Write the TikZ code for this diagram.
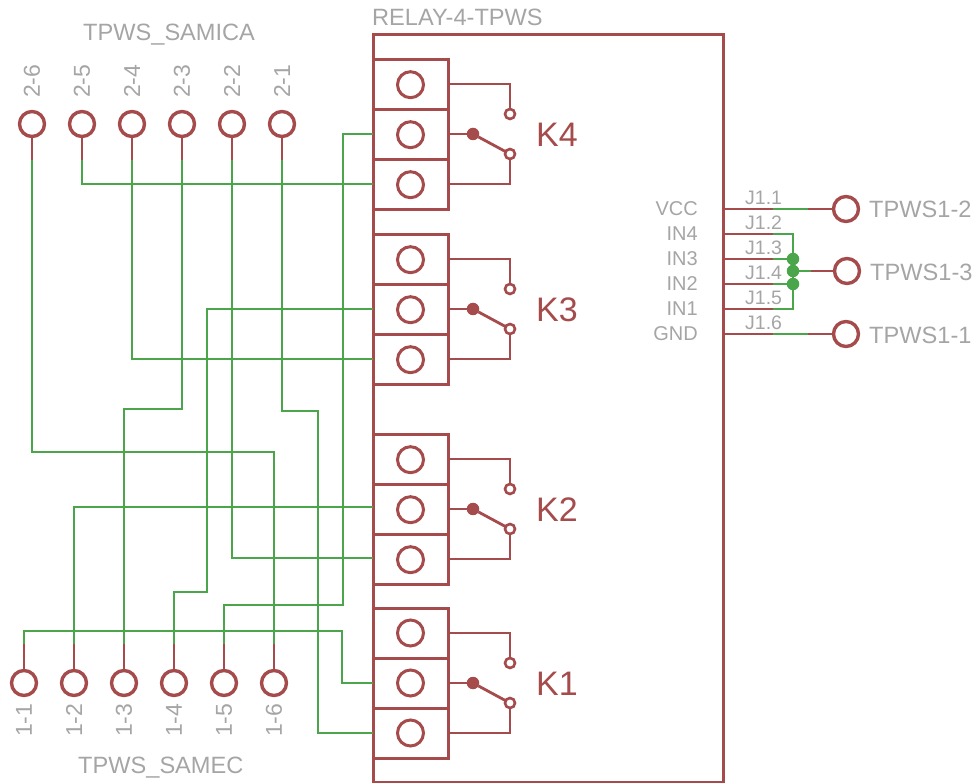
\documentclass[tikz,border=0pt]{standalone}
\usepackage{fontspec}
\setmainfont{Liberation Sans}
\definecolor{schred}{RGB}{165,75,75}
\definecolor{schgreen}{RGB}{75,165,75}
\definecolor{schgray}{RGB}{165,165,165}
\begin{document}
\begin{tikzpicture}[x=1pt,y=-1pt,
	wirered/.style={color=schred, line width=2.8pt},
	wiregreen/.style={color=schgreen, line width=2.4pt},
	pinnode/.style={circle, draw=schred, line width=3.4pt, fill=white, minimum size=25pt, inner sep=0pt, outer sep=0pt},
	terminal/.style={rectangle, draw=schred, line width=3pt, minimum width=75pt, minimum height=50pt, inner sep=0pt, outer sep=0pt},
	screw/.style={circle, draw=schred, line width=3pt, minimum size=26pt, inner sep=0pt, outer sep=0pt},
	contact/.style={circle, draw=schred, line width=2.6pt, fill=white, minimum size=10pt, inner sep=0pt, outer sep=0pt},
	pivot/.style={circle, fill=schred, minimum size=12.5pt, inner sep=0pt, outer sep=0pt},
	junction/.style={circle, fill=schgreen, minimum size=12.5pt, inner sep=0pt, outer sep=0pt},
	biglabel/.style={text=schgray, inner sep=0pt, font=\fontsize{23.6}{24}\selectfont},
	pinlabel/.style={text=schgray, inner sep=0pt, rotate=90, anchor=west, font=\fontsize{23}{23}\selectfont},
	netlabel/.style={text=schgray, inner sep=0pt, anchor=east, font=\fontsize{20}{20}\selectfont},
	padlabel/.style={text=schgray, inner sep=0pt, anchor=west, font=\fontsize{19.5}{20}\selectfont},
	relaylabel/.style={text=schred, inner sep=0pt, anchor=west, font=\fontsize{34}{34}\selectfont}]
	\useasboundingbox (0,0) rectangle (978,783);

	\coordinate (s26) at (32,160);
	\coordinate (s25) at (82,160);
	\coordinate (s24) at (132,160);
	\coordinate (s23) at (182,160);
	\coordinate (s22) at (232,160);
	\coordinate (s21) at (282,160);

	\coordinate (s11) at (24,644);
	\coordinate (s12) at (74,644);
	\coordinate (s13) at (124,644);
	\coordinate (s14) at (174,644);
	\coordinate (s15) at (224,644);
	\coordinate (s16) at (274,644);

	\coordinate (w4b) at (373,134);
	\coordinate (w4c) at (373,184);
	\coordinate (w3b) at (373,309);
	\coordinate (w3c) at (373,359);
	\coordinate (w2b) at (373,507);
	\coordinate (w2c) at (373,558);
	\coordinate (w1b) at (373,683);
	\coordinate (w1c) at (373,733);

	\node[rectangle, draw=schred, line width=3pt, minimum width=350pt, minimum height=747pt, inner sep=0pt, outer sep=0pt] (relay) at (548,408.5) {};

	\node[terminal] (k4a) at (410.5,84.7) {};
	\node[terminal] (k4b) at (410.5,134.7) {};
	\node[terminal] (k4c) at (410.5,184.7) {};
	\node[terminal] (k3a) at (410.5,259.7) {};
	\node[terminal] (k3b) at (410.5,309.7) {};
	\node[terminal] (k3c) at (410.5,359.7) {};
	\node[terminal] (k2a) at (410.5,459.7) {};
	\node[terminal] (k2b) at (410.5,509.7) {};
	\node[terminal] (k2c) at (410.5,559.7) {};
	\node[terminal] (k1a) at (410.5,633) {};
	\node[terminal] (k1b) at (410.5,683) {};
	\node[terminal] (k1c) at (410.5,733) {};

	\draw[wiregreen] (s11) |- (342,631) |- (w1b);
	\draw[wiregreen] (s12) |- (w2b);
	\draw[wiregreen] (s13) |- (182,409) -- (s23);
	\draw[wiregreen] (s14) |- (207,592) |- (w3b);
	\draw[wiregreen] (s15) |- (343,605) |- (w4b);
	\draw[wiregreen] (s16) |- (32,452) -- (s26);
	\draw[wiregreen] (s25) |- (w4c);
	\draw[wiregreen] (s24) |- (w3c);
	\draw[wiregreen] (s22) |- (w2c);
	\draw[wiregreen] (s21) |- (318,411) |- (w1c);

	\node[pinnode] (p26) at (32,124) {};
	\node[pinnode] (p25) at (82,124) {};
	\node[pinnode] (p24) at (132,124) {};
	\node[pinnode] (p23) at (182,124) {};
	\node[pinnode] (p22) at (232,124) {};
	\node[pinnode] (p21) at (282,124) {};

	\node[pinnode] (p11) at (24,683) {};
	\node[pinnode] (p12) at (74,683) {};
	\node[pinnode] (p13) at (124,683) {};
	\node[pinnode] (p14) at (174,683) {};
	\node[pinnode] (p15) at (224,683) {};
	\node[pinnode] (p16) at (274,683) {};

	\draw[wirered] (p26) -- (s26);
	\draw[wirered] (p25) -- (s25);
	\draw[wirered] (p24) -- (s24);
	\draw[wirered] (p23) -- (s23);
	\draw[wirered] (p22) -- (s22);
	\draw[wirered] (p21) -- (s21);

	\draw[wirered] (p11) -- (s11);
	\draw[wirered] (p12) -- (s12);
	\draw[wirered] (p13) -- (s13);
	\draw[wirered] (p14) -- (s14);
	\draw[wirered] (p15) -- (s15);
	\draw[wirered] (p16) -- (s16);

	\node[pinlabel] (l26) at (32,98) {2-6};
	\node[pinlabel] (l25) at (82,98) {2-5};
	\node[pinlabel] (l24) at (132,98) {2-4};
	\node[pinlabel] (l23) at (182,98) {2-3};
	\node[pinlabel] (l22) at (232,98) {2-2};
	\node[pinlabel] (l21) at (282,98) {2-1};

	\node[pinlabel] (l11) at (24,737) {1-1};
	\node[pinlabel] (l12) at (74,737) {1-2};
	\node[pinlabel] (l13) at (124,737) {1-3};
	\node[pinlabel] (l14) at (174,737) {1-4};
	\node[pinlabel] (l15) at (224,737) {1-5};
	\node[pinlabel] (l16) at (274,737) {1-6};

	\node[biglabel, anchor=base west] (samica) at (83,41) {TPWS\_SAMICA};
	\node[biglabel, anchor=base west] (samec) at (78,773) {TPWS\_SAMEC};
	\node[biglabel, anchor=base west] (relayname) at (372,26) {RELAY-4-TPWS};

	\node[screw] (c4a) at (k4a) {};
	\node[screw] (c4b) at (k4b) {};
	\node[screw] (c4c) at (k4c) {};
	\node[screw] (c3a) at (k3a) {};
	\node[screw] (c3b) at (k3b) {};
	\node[screw] (c3c) at (k3c) {};
	\node[screw] (c2a) at (k2a) {};
	\node[screw] (c2b) at (k2b) {};
	\node[screw] (c2c) at (k2c) {};
	\node[screw] (c1a) at (k1a) {};
	\node[screw] (c1b) at (k1b) {};
	\node[screw] (c1c) at (k1c) {};

	\coordinate (e4a) at (448,84);
	\coordinate (e4b) at (448,134);
	\coordinate (e4c) at (448,184);
	\coordinate (e3a) at (448,259);
	\coordinate (e3b) at (448,309);
	\coordinate (e3c) at (448,359);
	\coordinate (e2a) at (448,459);
	\coordinate (e2b) at (448,509);
	\coordinate (e2c) at (448,559);

	\node[contact] (k4no) at (510,114) {};
	\node[contact] (k4nc) at (510,154) {};
	\node[pivot] (k4com) at (473,134) {};
	\draw[wirered] (e4a) -| (k4no);
	\draw[wirered] (e4b) -- (k4com);
	\draw[wirered] (k4com) -- (k4nc);
	\draw[wirered] (e4c) -| (k4nc);
	\node[relaylabel] (k4name) at (536,134.5) {K4};

	\node[contact] (k3no) at (510,289) {};
	\node[contact] (k3nc) at (510,329) {};
	\node[pivot] (k3com) at (473,309) {};
	\draw[wirered] (e3a) -| (k3no);
	\draw[wirered] (e3b) -- (k3com);
	\draw[wirered] (k3com) -- (k3nc);
	\draw[wirered] (e3c) -| (k3nc);
	\node[relaylabel] (k3name) at (536,309.5) {K3};

	\node[contact] (k2no) at (510,489) {};
	\node[contact] (k2nc) at (510,529) {};
	\node[pivot] (k2com) at (473,509) {};
	\draw[wirered] (e2a) -| (k2no);
	\draw[wirered] (e2b) -- (k2com);
	\draw[wirered] (k2com) -- (k2nc);
	\draw[wirered] (e2c) -| (k2nc);
	\node[relaylabel] (k2name) at (536,509.5) {K2};

	\node[contact] (k1no) at (510,663) {};
	\node[contact] (k1nc) at (510,703) {};
	\node[pivot] (k1com) at (473,683) {};
	\draw[wirered] (k1a.east) -| (k1no);
	\draw[wirered] (k1b.east) -- (k1com);
	\draw[wirered] (k1com) -- (k1nc);
	\draw[wirered] (k1c.east) -| (k1nc);
	\node[relaylabel] (k1name) at (536,683.5) {K1};

	\coordinate (vcc) at (723,209);
	\coordinate (in4) at (723,234);
	\coordinate (in3) at (723,259);
	\coordinate (in2) at (723,284);
	\coordinate (in1) at (723,309);
	\coordinate (gnd) at (723,334);

	\node[netlabel] (lvcc) at (698,209) {VCC};
	\node[netlabel] (lin4) at (698,234) {IN4};
	\node[netlabel] (lin3) at (698,259) {IN3};
	\node[netlabel] (lin2) at (698,284) {IN2};
	\node[netlabel] (lin1) at (698,309) {IN1};
	\node[netlabel] (lgnd) at (698,334) {GND};

	\node[pinnode] (t2) at (846,209) {};
	\node[pinnode] (t3) at (847,271) {};
	\node[pinnode] (t1) at (846,334) {};

	\coordinate (g1a) at (773,209);
	\coordinate (g1b) at (808,209);
	\coordinate (g2) at (773,234);
	\coordinate (g3) at (773,259);
	\coordinate (g4) at (773,284);
	\coordinate (g5) at (773,309);
	\coordinate (g6a) at (773,334);
	\coordinate (g6b) at (808,334);
	\coordinate (g7) at (811,271);

	\draw[wirered] (vcc) -- (g1a);
	\draw[wirered] (in4) -- (g2);
	\draw[wirered] (in3) -- (g3);
	\draw[wirered] (in2) -- (g4);
	\draw[wirered] (in1) -- (g5);
	\draw[wirered] (gnd) -- (g6a);
	\draw[wirered] (g1b) -- (t2);
	\draw[wirered] (g6b) -- (t1);
	\draw[wirered] (g7) -- (t3);

	\node[junction] (j3) at (793,259) {};
	\node[junction] (j4) at (793,271) {};
	\node[junction] (j5) at (793,284) {};

	\draw[wiregreen] (g1a) -- (g1b);
	\draw[wiregreen] (g6a) -- (g6b);
	\draw[wiregreen] (g2) -| (j3);
	\draw[wiregreen] (g3) -- (j3);
	\draw[wiregreen] (g4) -- (j5);
	\draw[wiregreen] (g5) -| (j5);
	\draw[wiregreen] (j3) -- (j4);
	\draw[wiregreen] (j4) -- (j5);
	\draw[wiregreen] (j4) -- (g7);

	\node[padlabel] (j11) at (745,198) {J1.1};
	\node[padlabel] (j12) at (745,223) {J1.2};
	\node[padlabel] (j13) at (745,248) {J1.3};
	\node[padlabel] (j14) at (745,273) {J1.4};
	\node[padlabel] (j15) at (745,298) {J1.5};
	\node[padlabel] (j16) at (745,323) {J1.6};

	\node[biglabel, anchor=west] (lt2) at (869,209) {TPWS1-2};
	\node[biglabel, anchor=west] (lt3) at (870,272) {TPWS1-3};
	\node[biglabel, anchor=west] (lt1) at (869,335) {TPWS1-1};

\end{tikzpicture}
\end{document}
